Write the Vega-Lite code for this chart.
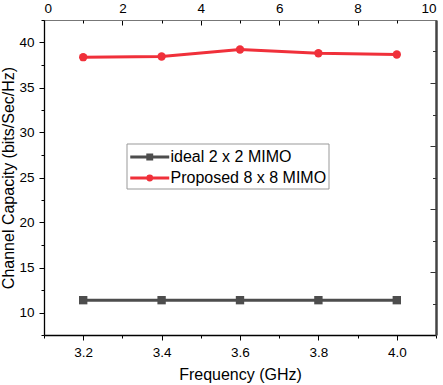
{
  "$schema": "https://vega.github.io/schema/vega-lite/v6.json",
  "width": 392,
  "height": 315,
  "autosize": {"type": "none"},
  "padding": {"left": 44, "top": 20, "right": 7, "bottom": 50},
  "config": {
    "view": {"stroke": null},
    "font": "Liberation Sans",
    "axis": {
      "grid": false,
      "labelFont": "Liberation Sans",
      "labelFontSize": 13.5,
      "labelColor": "#000",
      "tickColor": "#000",
      "tickWidth": 1,
      "domainColor": "#000",
      "domainWidth": 1.3,
      "titleFont": "Liberation Sans",
      "titleFontSize": 16,
      "titleFontWeight": "normal",
      "titleColor": "#000"
    },
    "legend": {
      "orient": "none", "legendX": 82.5, "legendY": 123.5,
      "title": null, "direction": "vertical",
      "strokeColor": "#999", "fillColor": "#fff", "padding": 2,
      "labelFont": "Liberation Sans", "labelFontSize": 16, "labelColor": "#000",
      "symbolSize": 380, "symbolStrokeWidth": 3, "labelOffset": 19, "rowPadding": 1
    }
  },
  "data": {
    "values": [
      {"freq": 3.2, "value": 11.37, "series": "ideal 2 x 2 MIMO"},
      {"freq": 3.4, "value": 11.37, "series": "ideal 2 x 2 MIMO"},
      {"freq": 3.6, "value": 11.37, "series": "ideal 2 x 2 MIMO"},
      {"freq": 3.8, "value": 11.37, "series": "ideal 2 x 2 MIMO"},
      {"freq": 4.0, "value": 11.37, "series": "ideal 2 x 2 MIMO"},
      {"freq": 3.2, "value": 38.37, "series": "Proposed 8 x 8 MIMO"},
      {"freq": 3.4, "value": 38.44, "series": "Proposed 8 x 8 MIMO"},
      {"freq": 3.6, "value": 39.22, "series": "Proposed 8 x 8 MIMO"},
      {"freq": 3.8, "value": 38.81, "series": "Proposed 8 x 8 MIMO"},
      {"freq": 4.0, "value": 38.67, "series": "Proposed 8 x 8 MIMO"}
    ]
  },
  "resolve": {"scale": {"x": "independent", "y": "independent"}},
  "layer": [
    {
      "mark": {"type": "point", "opacity": 0},
      "encoding": {
        "x": {"field": "freq", "type": "quantitative", "scale": {"domain": [3.1, 4.1], "nice": false, "zero": false},
          "axis": {"orient": "bottom", "values": [3.1, 3.3, 3.5, 3.7, 3.9, 4.1], "labels": false, "domain": false, "tickSize": 3, "title": null}},
        "y": {"field": "value", "type": "quantitative", "scale": {"domain": [7.5, 42.5], "nice": false, "zero": false},
          "axis": {"orient": "left", "values": [7.5, 12.5, 17.5, 22.5, 27.5, 32.5, 37.5, 42.5], "labels": false, "domain": false, "tickSize": 3, "title": null}}
      }
    },
    {
      "mark": {"type": "point", "opacity": 0},
      "encoding": {
        "x": {"field": "freq", "type": "quantitative", "scale": {"domain": [0, 10], "nice": false, "zero": false},
          "axis": {"orient": "top", "values": [0, 2, 4, 6, 8, 10], "tickSize": -5, "labelPadding": 10, "domainColor": "#777", "domainWidth": 1, "title": null}},
        "y": {"field": "value", "type": "quantitative", "scale": {"domain": [0, 10], "nice": false, "zero": false},
          "axis": {"orient": "right", "values": [2, 4, 6, 8], "tickSize": -6, "labels": false, "domainColor": "#444", "domainWidth": 2.5, "tickColor": "#333", "title": null}}
      }
    },
    {
      "mark": {"type": "point", "opacity": 0},
      "encoding": {
        "x": {"field": "freq", "type": "quantitative", "scale": {"domain": [0, 10], "nice": false, "zero": false},
          "axis": {"orient": "top", "values": [1, 3, 5, 7, 9], "tickSize": -3, "labels": false, "domain": false, "title": null}},
        "y": {"field": "value", "type": "quantitative", "scale": {"domain": [0, 10], "nice": false, "zero": false},
          "axis": {"orient": "right", "values": [1, 3, 5, 7, 9], "tickSize": -3.5, "labels": false, "domain": false, "tickColor": "#333", "title": null}}
      }
    },
    {
      "transform": [{"filter": "datum.series === 'ideal 2 x 2 MIMO'"}],
      "mark": {"type": "line", "strokeWidth": 3, "color": "#4d4d4d"},
      "encoding": {
        "x": {"field": "freq", "type": "quantitative", "scale": {"domain": [3.1, 4.1], "nice": false, "zero": false},
          "axis": {"orient": "bottom", "values": [3.2, 3.4, 3.6, 3.8, 4.0], "format": ".1f", "tickSize": 5, "labelPadding": 5, "title": "Frequency (GHz)", "titlePadding": 8}},
        "y": {"field": "value", "type": "quantitative", "scale": {"domain": [7.5, 42.5], "nice": false, "zero": false},
          "axis": {"orient": "left", "values": [10, 15, 20, 25, 30, 35, 40], "tickSize": 5, "labelPadding": 5, "title": "Channel Capacity (bits/Sec/Hz)", "titlePadding": 2}}
      }
    },
    {
      "transform": [{"filter": "datum.series === 'Proposed 8 x 8 MIMO'"}],
      "mark": {"type": "line", "strokeWidth": 3, "color": "#f0303a"},
      "encoding": {
        "x": {"field": "freq", "type": "quantitative", "scale": {"domain": [3.1, 4.1], "nice": false, "zero": false}, "axis": null},
        "y": {"field": "value", "type": "quantitative", "scale": {"domain": [7.5, 42.5], "nice": false, "zero": false}, "axis": null}
      }
    },
    {
      "transform": [{"filter": "datum.series === 'ideal 2 x 2 MIMO'"}],
      "mark": {"type": "point", "filled": true, "opacity": 1, "shape": "square", "size": 70, "color": "#4d4d4d"},
      "encoding": {
        "x": {"field": "freq", "type": "quantitative", "scale": {"domain": [3.1, 4.1], "nice": false, "zero": false}, "axis": null},
        "y": {"field": "value", "type": "quantitative", "scale": {"domain": [7.5, 42.5], "nice": false, "zero": false}, "axis": null}
      }
    },
    {
      "transform": [{"filter": "datum.series === 'Proposed 8 x 8 MIMO'"}],
      "mark": {"type": "point", "filled": true, "opacity": 1, "shape": "circle", "size": 70, "color": "#f0303a"},
      "encoding": {
        "x": {"field": "freq", "type": "quantitative", "scale": {"domain": [3.1, 4.1], "nice": false, "zero": false}, "axis": null},
        "y": {"field": "value", "type": "quantitative", "scale": {"domain": [7.5, 42.5], "nice": false, "zero": false}, "axis": null}
      }
    },
    {
      "transform": [{"filter": "false"}],
      "mark": {"type": "point", "filled": true, "opacity": 1, "strokeWidth": 3},
      "encoding": {
        "color": {"field": "series", "type": "nominal",
          "scale": {"domain": ["ideal 2 x 2 MIMO", "Proposed 8 x 8 MIMO"], "range": ["#4d4d4d", "#f0303a"]}},
        "stroke": {"field": "series", "type": "nominal",
          "scale": {"domain": ["ideal 2 x 2 MIMO", "Proposed 8 x 8 MIMO"], "range": ["#4d4d4d", "#f0303a"]}},
        "shape": {"field": "series", "type": "nominal",
          "scale": {"domain": ["ideal 2 x 2 MIMO", "Proposed 8 x 8 MIMO"], "range": ["M-1,0H3M0.8,-0.2H1.2V0.2H0.8Z", "M-1,0H3M1.2,0A0.2,0.2,0,1,1,0.8,0A0.2,0.2,0,1,1,1.2,0Z"]}}
      }
    }
  ]
}
